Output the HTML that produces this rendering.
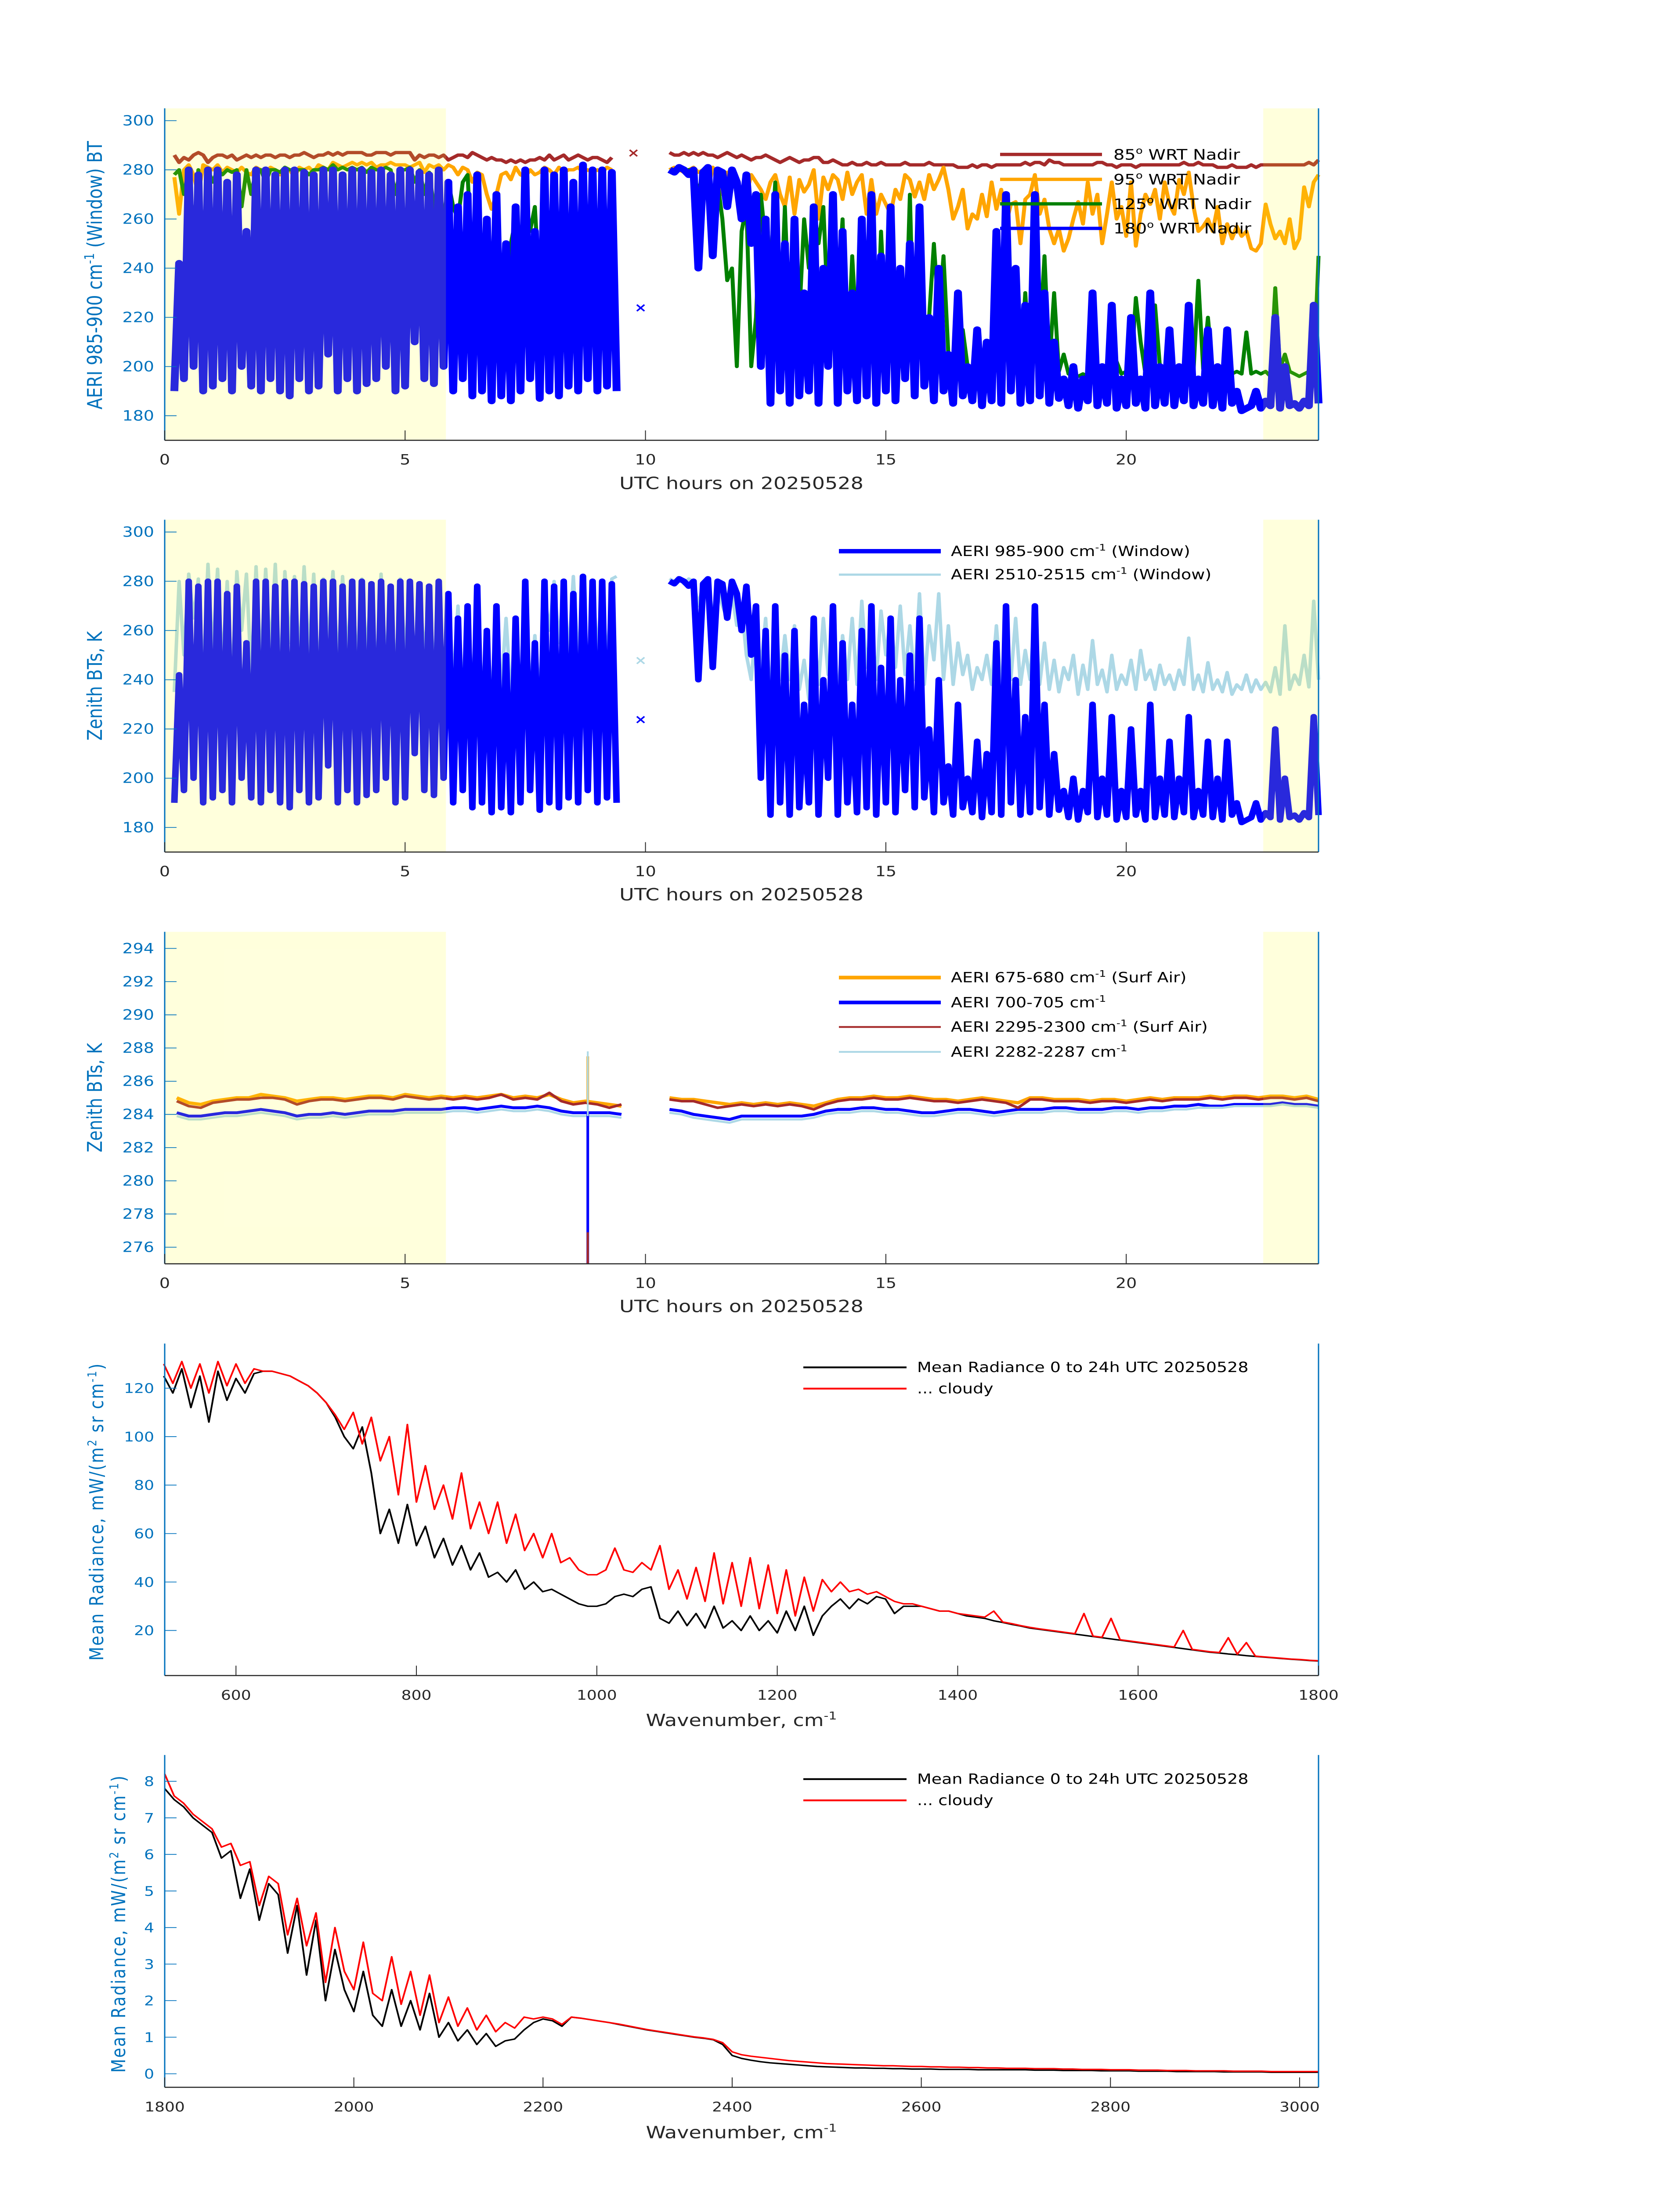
<!DOCTYPE html>
<html><head><meta charset="utf-8"><title>AERI 20250528</title>
<style>html,body{margin:0;padding:0;background:#fff;overflow:hidden}svg#chart{display:block;width:100vw;height:100vh}text{font-family:"DejaVu Sans","Liberation Sans",sans-serif}</style>
</head><body>
<svg id="chart" xmlns="http://www.w3.org/2000/svg" viewBox="0 0 3825 6000" preserveAspectRatio="none">
<rect x="0" y="0" width="3825" height="6000" fill="#fff"/>
<g id="layer"></g>
<!-- axis titles -->
<text transform="translate(232,752) rotate(-90)" text-anchor="middle" font-size="46" fill="#0072BD">AERI 985-900 cm<tspan dy="-18" font-size="30">-1</tspan><tspan dy="18"> (Window) BT</tspan></text>
<text x="1688" y="1336" text-anchor="middle" font-size="46" fill="#262626">UTC hours on 20250528</text>
<text transform="translate(232,1874) rotate(-90)" text-anchor="middle" font-size="46" fill="#0072BD">Zenith BTs, K</text>
<text x="1688" y="2460" text-anchor="middle" font-size="46" fill="#262626">UTC hours on 20250528</text>
<text transform="translate(232,2999) rotate(-90)" text-anchor="middle" font-size="46" fill="#0072BD">Zenith BTs, K</text>
<text x="1688" y="3585" text-anchor="middle" font-size="46" fill="#262626">UTC hours on 20250528</text>
<text transform="translate(235,4130) rotate(-90)" text-anchor="middle" font-size="44" letter-spacing="3" fill="#0072BD">Mean Radiance, mW/(m<tspan dy="-16" font-size="28">2</tspan><tspan dy="16"> sr cm</tspan><tspan dy="-16" font-size="28">-1</tspan><tspan dy="16">)</tspan></text>
<text x="1688" y="4716" text-anchor="middle" font-size="46" fill="#262626">Wavenumber, cm<tspan dy="-18" font-size="30">-1</tspan></text>
<text transform="translate(285,5256) rotate(-90)" text-anchor="middle" font-size="44" letter-spacing="3" fill="#0072BD">Mean Radiance, mW/(m<tspan dy="-16" font-size="28">2</tspan><tspan dy="16"> sr cm</tspan><tspan dy="-16" font-size="28">-1</tspan><tspan dy="16">)</tspan></text>
<text x="1688" y="5842" text-anchor="middle" font-size="46" fill="#262626">Wavenumber, cm<tspan dy="-18" font-size="30">-1</tspan></text>
<!-- legends -->
<g font-size="40" fill="#000">
<line x1="2277" y1="422" x2="2509" y2="422" stroke="#A52A2A" stroke-width="9"/>
<text x="2535" y="436">85<tspan dy="-16" font-size="26">o</tspan><tspan dy="16"> WRT Nadir</tspan></text>
<line x1="2277" y1="490" x2="2509" y2="490" stroke="#FFA500" stroke-width="9"/>
<text x="2535" y="504">95<tspan dy="-16" font-size="26">o</tspan><tspan dy="16"> WRT Nadir</tspan></text>
<line x1="2277" y1="557" x2="2509" y2="557" stroke="#008000" stroke-width="9"/>
<text x="2535" y="571">125<tspan dy="-16" font-size="26">o</tspan><tspan dy="16"> WRT Nadir</tspan></text>
<line x1="2277" y1="624" x2="2509" y2="624" stroke="#0000FF" stroke-width="9"/>
<text x="2535" y="638">180<tspan dy="-16" font-size="26">o</tspan><tspan dy="16"> WRT Nadir</tspan></text>
</g>
<g font-size="38" fill="#000">
<line x1="1910" y1="1506" x2="2142" y2="1506" stroke="#0000FF" stroke-width="12"/>
<text x="2165" y="1519">AERI 985-900 cm<tspan dy="-15" font-size="25">-1</tspan><tspan dy="15"> (Window)</tspan></text>
<line x1="1910" y1="1570" x2="2142" y2="1570" stroke="#ADD8E6" stroke-width="6"/>
<text x="2165" y="1583">AERI 2510-2515 cm<tspan dy="-15" font-size="25">-1</tspan><tspan dy="15"> (Window)</tspan></text>
</g>
<g font-size="38" fill="#000">
<line x1="1910" y1="2671" x2="2142" y2="2671" stroke="#FFA500" stroke-width="10"/>
<text x="2165" y="2684">AERI 675-680 cm<tspan dy="-15" font-size="25">-1</tspan><tspan dy="15"> (Surf Air)</tspan></text>
<line x1="1910" y1="2739" x2="2142" y2="2739" stroke="#0000FF" stroke-width="10"/>
<text x="2165" y="2752">AERI 700-705 cm<tspan dy="-15" font-size="25">-1</tspan></text>
<line x1="1910" y1="2806" x2="2142" y2="2806" stroke="#A52A2A" stroke-width="5"/>
<text x="2165" y="2819">AERI 2295-2300 cm<tspan dy="-15" font-size="25">-1</tspan><tspan dy="15"> (Surf Air)</tspan></text>
<line x1="1910" y1="2874" x2="2142" y2="2874" stroke="#ADD8E6" stroke-width="5"/>
<text x="2165" y="2887">AERI 2282-2287 cm<tspan dy="-15" font-size="25">-1</tspan></text>
</g>
<g font-size="38" fill="#000">
<line x1="1829" y1="3736" x2="2064" y2="3736" stroke="#000" stroke-width="5"/>
<text x="2088" y="3749">Mean Radiance 0 to 24h UTC 20250528</text>
<line x1="1829" y1="3794" x2="2064" y2="3794" stroke="#FF0000" stroke-width="5"/>
<text x="2088" y="3807">... cloudy</text>
</g>
<g font-size="38" fill="#000">
<line x1="1829" y1="4861" x2="2064" y2="4861" stroke="#000" stroke-width="5"/>
<text x="2088" y="4874">Mean Radiance 0 to 24h UTC 20250528</text>
<line x1="1829" y1="4919" x2="2064" y2="4919" stroke="#FF0000" stroke-width="5"/>
<text x="2088" y="4932">... cloudy</text>
</g>
</svg>
<script>
// ---------- data ----------
const hourTicks=[0,5,10,15,20];
const btTicks=[180,200,220,240,260,280,300];
const sfcTicks=[276,278,280,282,284,286,288,290,292,294];
const wn4Ticks=[600,800,1000,1200,1400,1600,1800];
const rad4Ticks=[20,40,60,80,100,120];
const wn5Ticks=[1800,2000,2200,2400,2600,2800,3000];
const rad5Ticks=[0,1,2,3,4,5,6,7,8];
const nightSpans=[[0,5.85],[22.85,24]];
const N=null;
// panel 1 series, every 0.1 h from 0 to 24
const bt85=[N,N,286,283,285,284,286,287,286,283, 285,286,286,285,286,284,285,286,285,286, 285,286,286,285,286,286,285,286,286,287, 286,285,286,286,287,286,287,286,287,287, 287,287,286,286,287,287,287,286,287,287, 287,287,284,286,285,286,286,285,286,284, 285,286,286,285,287,286,285,284,285,284, 284,283,284,283,284,283,284,284,285,284, 286,284,285,286,284,285,286,285,284,285, 285,284,283,285,N,N,N,N,N,N, N,N,N,N,N,287,286,286,287,286, 287,286,287,286,286,285,286,287,286,285, 286,285,284,285,285,286,285,284,283,284, 285,284,283,284,284,285,285,283,283,284, 283,282,282,283,282,282,283,282,282,283, 282,282,282,282,283,282,282,282,282,283, 282,282,282,282,282,281,281,281,282,281, 282,282,281,282,282,282,282,282,282,283, 282,283,283,282,284,283,283,282,282,282, 282,282,282,282,283,283,282,282,281,282, 282,282,281,282,282,282,282,282,282,282, 282,282,283,282,282,283,282,282,282,281, 281,281,282,281,281,281,282,281,282,282, 282,282,282,282,282,282,282,282,283,282, 284];
const bt95=[N,N,277,262,280,282,278,270,282,281, 280,282,279,281,280,279,281,279,278,281, 280,279,281,280,278,281,280,277,281,280, 281,279,282,281,280,283,282,281,282,283, 282,283,282,283,281,282,282,283,282,282, 282,281,282,283,279,282,281,282,280,282, 281,278,281,280,275,279,278,270,264,270, 278,279,276,281,278,277,280,278,279,281, 280,278,281,279,280,280,281,279,280,279, 280,279,281,280,N,N,N,N,N,N, N,N,N,N,N,280,281,280,279,280, 281,279,280,272,281,276,270,279,278,276, 265,270,278,275,272,268,275,278,270,265, 277,262,276,271,274,280,260,277,272,278, 276,268,279,270,275,278,262,276,262,270, 266,262,272,268,278,276,269,275,268,278, 272,276,281,272,260,265,272,256,262,260, 270,261,275,264,272,258,266,267,250,268, 270,278,262,268,256,250,256,247,252,260, 267,258,275,262,270,250,262,275,260,265, 253,275,249,262,270,266,272,260,275,266, 262,276,270,279,265,255,257,260,255,265, 250,258,252,257,253,255,248,247,250,266, 258,252,255,250,260,248,252,273,265,275, 278];
const bt125=[N,N,278,280,270,280,255,280,250,280, 275,280,278,280,279,280,265,280,270,280, 280,275,280,280,279,281,280,280,280,280, 278,280,280,281,280,282,280,281,280,281, 280,281,279,281,280,280,281,280,270,280, 280,281,275,280,270,279,265,250,260,275, 265,260,275,278,240,270,230,255,225,250, 200,230,250,260,240,270,255,265,230,275, 250,270,240,260,230,275,245,270,250,278, 240,275,230,280,N,N,N,N,N,N, N,N,N,N,N,280,279,281,280,280, 280,270,280,278,270,275,260,235,240,200, 255,265,200,220,270,250,240,275,215,265, 215,245,220,260,240,265,250,265,220,265, 230,260,200,245,210,255,230,262,200,255, 215,265,200,230,205,270,195,230,200,220, 250,220,245,205,200,197,215,200,197,199, 198,197,200,230,197,235,198,210,197,230, 197,260,210,245,200,230,198,205,197,196, 196,197,196,198,197,198,196,198,202,197, 198,197,228,210,197,198,225,200,197,198, 198,199,198,200,198,235,199,220,198,200, 197,196,197,198,197,214,197,198,197,198, 196,232,199,205,198,197,196,197,198,197, 245];
const bt180=[N,N,190,242,195,280,200,278,190,280, 192,280,195,275,190,278,200,255,192,280, 190,280,195,278,190,280,188,280,195,279, 190,278,192,280,205,280,190,278,195,280, 190,280,193,279,195,280,200,278,190,280, 192,280,210,279,195,278,193,280,200,275, 190,265,195,270,188,278,190,260,186,270, 188,250,186,265,190,280,195,255,187,280, 190,278,188,280,192,275,190,282,195,280, 190,280,192,279,190,N,N,N,N,N, N,N,N,N,N,280,279,281,280,278, 280,240,279,281,245,280,279,265,280,275, 260,278,250,270,200,260,185,270,190,250, 185,260,188,230,190,265,185,240,200,270, 185,255,190,230,186,260,188,270,185,245, 190,265,186,240,195,250,188,265,192,220, 186,240,190,205,185,230,188,200,186,215, 184,210,186,255,185,270,190,240,185,225, 186,270,188,230,185,210,187,195,184,200, 183,195,186,230,184,200,185,225,183,195, 184,220,185,195,183,230,184,200,185,215, 184,200,186,225,184,195,185,215,184,200, 183,215,185,190,182,183,184,190,183,186, 184,220,183,200,184,185,183,186,184,225, 185];
const bt2510=[N,N,235,280,250,283,265,281,240,287, 250,285,245,280,238,284,260,283,242,286, 245,285,250,287,240,284,255,282,248,286, 250,283,240,281,255,284,245,282,250,280, 245,281,250,279,240,283,245,278,240,281, 250,278,242,276,250,274,245,270,244,268, 240,270,235,266,238,262,236,258,235,255, 236,265,234,250,238,242,236,258,233,275, 260,280,255,278,250,282,248,275,240,280, 250,279,245,281,282,N,N,N,N,N, N,N,N,N,N,281,280,281,279,281, 280,270,279,281,265,278,270,265,275,262, 270,250,240,262,245,265,232,268,240,258, 240,262,236,248,232,262,238,265,242,255, 232,258,240,265,238,272,245,262,240,268, 250,265,245,270,242,262,240,275,238,262, 248,275,240,262,238,255,242,250,236,245, 240,250,238,262,236,248,240,265,238,252, 240,268,238,255,236,248,235,245,240,250, 234,246,236,256,238,244,235,250,236,242, 238,248,236,252,240,244,236,246,238,242, 236,244,238,257,236,242,235,247,236,240, 235,243,234,238,236,242,235,240,236,239, 235,245,234,262,236,242,238,250,237,272, 240];
const markP1Hours=[9.75,9.9];
const markP1Values=[287,224];
const markP2Hours=[9.9,9.9];
const markP2Values=[248,224];
// panel 3 series, every 0.25 h
const sfc675=[N,285.0,284.7,284.6,284.8,284.9,285.0,285.0,285.2,285.1,285.0,284.8,284.9,285.0,285.0,284.9,285.0,285.1,285.1,285.0,285.2,285.1,285.0,285.1,285.0,285.1,285.0,285.1,285.2,285.0,285.1,285.0,285.2,284.9,284.7,284.8,284.7,284.6,284.5,N,284.6,N,285.0,284.9,284.9,284.8,284.7,284.6,284.7,284.6,284.7,284.6,284.7,284.6,284.5,284.7,284.9,285.0,285.0,285.1,285.0,285.0,285.1,285.0,284.9,284.9,284.8,284.9,285.0,284.9,284.8,284.7,285.0,285.0,284.9,284.9,284.9,284.8,284.9,284.9,284.8,284.9,285.0,284.9,285.0,285.0,285.0,285.1,285.0,285.1,285.1,285.0,285.1,285.1,285.0,285.1,284.9];
const sfc700=[N,284.1,283.9,283.9,284.0,284.1,284.1,284.2,284.3,284.2,284.1,283.9,284.0,284.0,284.1,284.0,284.1,284.2,284.2,284.2,284.3,284.3,284.3,284.3,284.4,284.4,284.3,284.4,284.5,284.4,284.4,284.5,284.4,284.2,284.1,284.1,284.1,284.1,284.0,N,284.0,N,284.3,284.2,284.0,283.9,283.8,283.7,283.9,283.9,283.9,283.9,283.9,283.9,284.0,284.2,284.3,284.3,284.4,284.4,284.3,284.3,284.2,284.1,284.1,284.2,284.3,284.3,284.2,284.1,284.2,284.3,284.3,284.3,284.4,284.4,284.3,284.3,284.3,284.4,284.4,284.3,284.4,284.4,284.5,284.5,284.6,284.5,284.5,284.6,284.6,284.6,284.6,284.7,284.6,284.6,284.5];
const sfc2295=[N,284.8,284.5,284.4,284.7,284.8,284.9,284.9,285.0,285.0,284.9,284.6,284.8,284.9,284.9,284.8,284.9,285.0,285.0,284.9,285.1,285.0,284.9,285.0,284.9,285.0,284.9,285.0,285.2,284.9,285.0,284.9,285.3,284.8,284.6,284.7,284.6,284.4,284.6,N,284.5,N,284.9,284.8,284.8,284.6,284.4,284.5,284.6,284.5,284.6,284.5,284.6,284.5,284.3,284.6,284.8,284.9,284.9,285.0,284.9,284.9,285.0,284.9,284.8,284.8,284.7,284.8,284.9,284.8,284.7,284.4,284.9,284.9,284.8,284.8,284.8,284.7,284.8,284.8,284.7,284.8,284.9,284.8,284.9,284.9,284.9,285.0,284.9,285.0,285.0,284.9,285.0,285.0,284.9,285.0,284.8];
const sfc2282=[N,283.9,283.7,283.7,283.8,283.9,283.9,284.0,284.1,284.0,283.9,283.7,283.8,283.8,283.9,283.8,283.9,284.0,284.0,284.0,284.1,284.1,284.1,284.1,284.2,284.2,284.1,284.2,284.3,284.2,284.2,284.3,284.2,284.0,283.9,283.9,283.9,283.9,283.8,N,283.7,N,284.1,284.0,283.8,283.7,283.6,283.5,283.7,283.7,283.7,283.7,283.7,283.7,283.8,284.0,284.1,284.1,284.2,284.2,284.1,284.1,284.0,283.9,283.9,284.0,284.1,284.1,284.0,283.9,284.0,284.1,284.1,284.1,284.2,284.2,284.1,284.1,284.1,284.2,284.2,284.1,284.2,284.2,284.3,284.3,284.4,284.4,284.4,284.5,284.5,284.5,284.5,284.6,284.5,284.5,284.4];
// calibration spike at 8.8 h: [from, to] for each channel
const spikeHour=[8.8];
const spike675=[287.5,284.7];
const spike700=[284.1,275];
const spike2295=[276.9,275];
const spike2282=[287.8,283.9];
// panel 4 spectra, 520..1800 every 10 cm-1
const radMean4=[125,118,128,112,125,106,127,115,124,118, 126,127,127,126,125,123,121,118,114,108, 100,95,104,85,60,70,56,72,55,63, 50,58,47,55,45,52,42,44,40,45, 37,40,36,37,35,33,31,30,30,31, 34,35,34,37,38,25,23,28,22,27, 21,30,21,24,20,26,20,24,19,28, 20,30,18,26,30,33,29,33,31,34, 33,27,30,30,30,29,28,28,27,26, 25.5,25,24,23.3,22.5,21.8,21,20.5,20,19.5, 19,18.5,18,17.5,17,16.5,16,15.5,15,14.5, 14,13.5,13,12.5,12,11.5,11,10.7,10.3,10, 9.6,9.3,9,8.7,8.4,8.1,7.9,7.6,7.4];
const radCloudy4=[130,122,131,120,130,118,131,121,130,122, 128,127,127,126,125,123,121,118,114,109, 103,110,97,108,90,100,76,105,73,88, 70,80,66,85,62,73,60,73,56,68, 53,60,50,60,48,50,45,43,43,45, 54,45,44,48,45,55,37,45,33,46, 32,52,31,48,30,50,29,47,27,45, 26,42,28,41,36,40,36,37,35,36, 34,32,31,31,30,29,28,28,27,26.5, 26,25.5,28,23.5,22.8,22,21.3,20.7,20.2,19.7, 19.2,18.7,27,17.7,17.2,25,16.2,15.7,15.2,14.7, 14.2,13.7,13.2,20,12.2,11.7,11.2,10.9,17,10.2, 15,9.4,9.1,8.8,8.5,8.2,8,7.7,7.5];
// panel 5 spectra, 1800..3020 every 10 cm-1
const radMean5=[7.8,7.5,7.3,7.0,6.8,6.6,5.9,6.1,4.8,5.6, 4.2,5.2,4.9,3.3,4.6,2.7,4.2,2.0,3.4,2.3, 1.7,2.8,1.6,1.3,2.3,1.3,2.0,1.2,2.2,1.0, 1.4,0.9,1.2,0.8,1.1,0.75,0.9,0.95,1.2,1.4, 1.5,1.45,1.3,1.55,1.52,1.48,1.44,1.4,1.35,1.3, 1.25,1.2,1.16,1.12,1.08,1.04,1.0,0.97,0.93,0.8, 0.5,0.42,0.37,0.33,0.3,0.28,0.26,0.24,0.22,0.2, 0.19,0.18,0.17,0.16,0.16,0.15,0.15,0.14,0.14,0.13, 0.13,0.13,0.12,0.12,0.12,0.12,0.11,0.11,0.11,0.11, 0.11,0.11,0.1,0.1,0.1,0.09,0.09,0.09,0.09,0.08, 0.08,0.08,0.08,0.07,0.07,0.07,0.07,0.06,0.06,0.06, 0.06,0.06,0.05,0.05,0.05,0.05,0.05,0.04,0.04,0.04, 0.04,0.04,0.04];
const radCloudy5=[8.2,7.6,7.4,7.1,6.9,6.7,6.2,6.3,5.7,5.8, 4.6,5.4,5.2,3.8,4.8,3.5,4.4,2.5,4.0,2.8, 2.3,3.6,2.2,2.0,3.2,1.9,2.8,1.6,2.7,1.4, 2.1,1.3,1.8,1.2,1.6,1.15,1.4,1.25,1.55,1.5, 1.55,1.5,1.35,1.55,1.52,1.48,1.44,1.4,1.36,1.31, 1.26,1.21,1.17,1.13,1.09,1.05,1.01,0.98,0.94,0.85, 0.6,0.52,0.48,0.45,0.42,0.39,0.36,0.34,0.32,0.3, 0.28,0.27,0.26,0.25,0.24,0.23,0.22,0.22,0.21,0.2, 0.2,0.19,0.19,0.18,0.18,0.17,0.17,0.16,0.16,0.15, 0.15,0.15,0.14,0.14,0.14,0.13,0.13,0.12,0.12,0.12, 0.11,0.11,0.11,0.1,0.1,0.1,0.09,0.09,0.09,0.08, 0.08,0.08,0.08,0.07,0.07,0.07,0.07,0.06,0.06,0.06, 0.06,0.06,0.06];

// ---------- drawing ----------
const NS='http://www.w3.org/2000/svg';
const layer=document.getElementById('layer');
function mk(tag,parent){const e=document.createElementNS(NS,tag);parent.appendChild(e);return e;}
function lin(d0,d1,r0,r1){return v=>r0+(v-d0)/(d1-d0)*(r1-r0);}
function grid(start,step,n){const a=[];for(let i=0;i<n;i++)a.push(+(start+i*step).toFixed(3));return a;}
function pathD(xs,ys,sx,sy){let d='',pen=false;for(let i=0;i<ys.length;i++){const v=ys[i];if(v===null||v===undefined){pen=false;continue;}d+=(pen?'L':'M')+sx(xs[i]).toFixed(1)+','+sy(v).toFixed(1);pen=true;}return d;}
const L=375,R=3002;
function panel(name,top,bot,xd,yd){return {name,top,bot,sx:lin(xd[0],xd[1],L,R),sy:lin(yd[0],yd[1],bot,top)};}
const P1=panel('p1',296,1203,[0,24],[170,305]);
const P2=panel('p2',1420,2328,[0,24],[170,305]);
const P3=panel('p3',2546,3453,[0,24],[275,295]);
const P4=panel('p4',3671,4578,[521,1800],[1.4,138.4]);
const P5=panel('p5',4795,5703,[1800,3020],[-0.37,8.72]);

function series(P,xs,ys,color,w,nm){
  const p=mk('path',layer);
  p.setAttribute('d',pathD(xs,ys,P.sx,P.sy));
  p.setAttribute('fill','none');p.setAttribute('stroke',color);p.setAttribute('stroke-width',w);
  p.setAttribute('stroke-linejoin','round');
  
  
}
function markers(P,xs,ys,color,nm){
  for(let i=0;i<xs.length;i++){
    const t=mk('text',layer);
    t.setAttribute('x',P.sx(xs[i]));t.setAttribute('y',P.sy(ys[i])+12);
    t.setAttribute('text-anchor','middle');t.setAttribute('font-size','34');t.setAttribute('font-weight','bold');
    t.setAttribute('fill',color);t.textContent='×';
    
    
  }
}
function shade(P){
  nightSpans.forEach(s=>{
    const r=mk('rect',layer);
    r.setAttribute('x',P.sx(s[0]));r.setAttribute('y',P.top);
    r.setAttribute('width',P.sx(s[1])-P.sx(s[0]));r.setAttribute('height',P.bot-P.top);
    r.setAttribute('fill','rgb(255,255,40)');r.setAttribute('fill-opacity','0.16');
    
    
  });
}
function axes(P,xt,yt,fs){
  const g=mk('g',layer);
  
  
  const ln=(x1,y1,x2,y2,c,w)=>{const l=mk('line',g);l.setAttribute('x1',x1);l.setAttribute('y1',y1);l.setAttribute('x2',x2);l.setAttribute('y2',y2);l.setAttribute('stroke',c);l.setAttribute('stroke-width',w);};
  ln(L,P.top,L,P.bot,'#0072BD',3);
  ln(R,P.top,R,P.bot,'#0072BD',3);
  ln(L,P.bot,R,P.bot,'#262626',3);
  xt.forEach(v=>{const x=P.sx(v);ln(x,P.bot,x,P.bot-27,'#262626',2);
    const t=mk('text',g);t.setAttribute('x',x);t.setAttribute('y',P.bot+66);t.setAttribute('text-anchor','middle');t.setAttribute('font-size',fs);t.setAttribute('fill','#262626');t.textContent=v;
    
    });
  yt.forEach(v=>{const y=P.sy(v);ln(L,y,L+27,y,'#0072BD',2);
    const t=mk('text',g);t.setAttribute('x',L-24);t.setAttribute('y',y+13);t.setAttribute('text-anchor','end');t.setAttribute('font-size',fs);t.setAttribute('fill','#0072BD');t.textContent=v;
    
    });
}
const tH=grid(0,0.1,241), tQ=grid(0,0.25,97), w4=grid(520,10,129), w5=grid(1800,10,123);
// panel 1
series(P1,tH,bt85,'#A52A2A',9,'line-85deg');
series(P1,tH,bt95,'#FFA500',9,'line-95deg');
series(P1,tH,bt125,'#008000',9,'line-125deg');
series(P1,tH,bt180,'#0000FF',18,'line-180deg');
markers(P1,markP1Hours.slice(0,1),markP1Values.slice(0,1),'#A52A2A','marker-85deg');
markers(P1,markP1Hours.slice(1),markP1Values.slice(1),'#0000FF','marker-180deg');
shade(P1);axes(P1,hourTicks,btTicks,38);
// panel 2
series(P2,tH,bt2510,'#ADD8E6',8,'line-2510-2515');
series(P2,tH,bt180,'#0000FF',15,'line-985-900');
markers(P2,markP2Hours.slice(0,1),markP2Values.slice(0,1),'#ADD8E6','marker-2510');
markers(P2,markP2Hours.slice(1),markP2Values.slice(1),'#0000FF','marker-985');
shade(P2);axes(P2,hourTicks,btTicks,38);
// panel 3
function spike(P,h,v,color,w,nm){
  const l=mk('line',layer);
  l.setAttribute('x1',P.sx(h[0]));l.setAttribute('x2',P.sx(h[0]));
  l.setAttribute('y1',P.sy(v[0]));l.setAttribute('y2',P.sy(v[1]));
  l.setAttribute('stroke',color);l.setAttribute('stroke-width',w);
  
  
}
series(P3,tQ,sfc675,'#FFA500',9,'line-675-680');
series(P3,tQ,sfc700,'#0000FF',8,'line-700-705');
series(P3,tQ,sfc2295,'#A52A2A',7,'line-2295-2300');
series(P3,tQ,sfc2282,'#ADD8E6',6,'line-2282-2287');
spike(P3,spikeHour,spike675,'#FFA500',6,'spike-675-680');
spike(P3,spikeHour,spike700,'#0000FF',6,'spike-700-705');
spike(P3,spikeHour,spike2295,'#A52A2A',5,'spike-2295-2300');
spike(P3,spikeHour,spike2282,'#ADD8E6',4,'spike-2282-2287');
shade(P3);axes(P3,hourTicks,sfcTicks,38);
// panel 4
series(P4,w4,radMean4,'#000000',4,'line-mean-radiance');
series(P4,w4,radCloudy4,'#FF0000',4,'line-cloudy');
axes(P4,wn4Ticks,rad4Ticks,36);
// panel 5
series(P5,w5,radMean5,'#000000',4,'line-mean-radiance-2');
series(P5,w5,radCloudy5,'#FF0000',4,'line-cloudy-2');
axes(P5,wn5Ticks,rad5Ticks,36);
</script>
</body></html>
